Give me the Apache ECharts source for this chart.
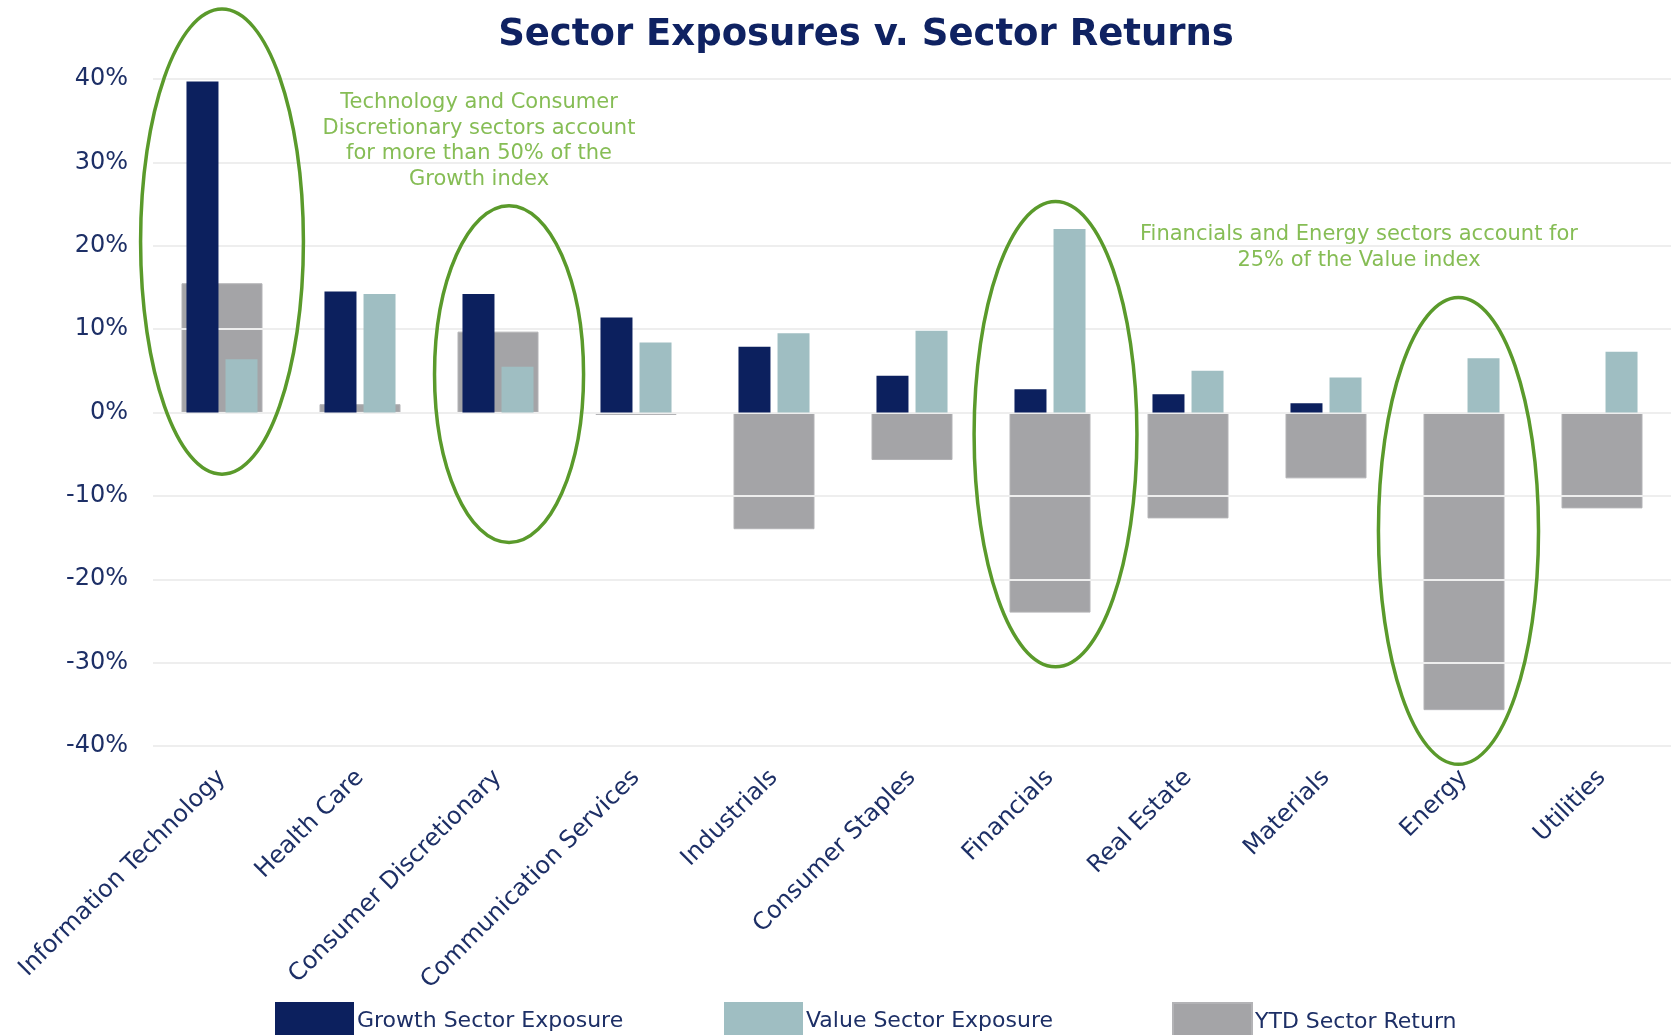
<!DOCTYPE html>
<html>
<head>
<meta charset="utf-8">
<script src="https://cdn.jsdelivr.net/npm/echarts@6/dist/echarts.min.js"></script>
<style>
html, body { margin: 0; padding: 0; background: #fff; }
#container { width: 1671px; height: 1035px; }
</style>
</head>
<body>
<div id="container"></div>
<script>
// 数据
var sectors = ['Information Technology', 'Health Care', 'Consumer Discretionary', 'Communication Services',
    'Industrials', 'Consumer Staples', 'Financials', 'Real Estate', 'Materials', 'Energy', 'Utilities'];
var growthExposure = [39.7, 14.5, 14.2, 11.4, 7.9, 4.4, 2.8, 2.2, 1.1, 0, 0];
var valueExposure = [6.4, 14.2, 5.5, 8.4, 9.5, 9.8, 22.0, 5.0, 4.2, 6.5, 7.3];
var ytdReturn = [15.5, 1.0, 9.7, -0.3, -14.0, -5.7, -24.0, -12.7, -7.9, -35.7, -11.5];
var yTicks = [-40, -30, -20, -10, 0, 10, 20, 30, 40];
var seriesNames = ['Growth Sector Exposure', 'Value Sector Exposure', 'YTD Sector Return'];

// 椭圆标注：所在行业、中心值、半高（百分点）、半宽与横向偏移（类目宽度的比例）
var highlightSector = ['Information Technology', 'Consumer Discretionary', 'Financials', 'Energy'];
var highlightMid = [20.5, 4.6, -2.6, -14.2];
var highlightHalf = [27.9, 20.2, 27.9, 28.0];
var highlightWidth = [0.59, 0.54, 0.59, 0.58];
var highlightShift = [0, 0.08, 0.04, -0.04];

var navy = '#0c205e';
var teal = '#9fbec2';
var grey = '#a4a4a7';
var textNavy = '#1d2f66';
var green = '#5a9a2b';
var noteGreen = '#86bd55';
var font = 'DejaVu Sans, Verdana, sans-serif';

var option = {
    animation: false,
    grid: { left: 153, right: 0, top: 79, bottom: 289, containLabel: false },
    xAxis: [{
        type: 'category',
        data: sectors,
        position: 'bottom',
        axisLine: { show: false, onZero: false },
        axisTick: { show: false },
        axisLabel: {
            rotate: 45,
            interval: 0,
            margin: 28,
            fontSize: 24,
            fontFamily: font,
            color: textNavy
        }
    }, {
        type: 'category',
        data: sectors,
        show: false
    }],
    yAxis: {
        type: 'value',
        min: yTicks[0],
        max: yTicks[yTicks.length - 1],
        interval: 10,
        z: 2,
        axisLine: { show: false },
        axisTick: { show: false },
        splitLine: { lineStyle: { color: '#eeeeee', width: 2 } },
        axisLabel: {
            formatter: '{value}%',
            margin: 25,
            fontSize: 24,
            fontFamily: font,
            color: textNavy
        }
    },
    legend: seriesNames.map(function(name, i) {
        return {
            data: [name],
            left: [275, 724, 1172][i],
            top: 1002,
            padding: 0,
            icon: 'rect',
            itemWidth: 79,
            itemHeight: 38,
            textStyle: { fontSize: 22, fontFamily: font, color: textNavy, padding: [4, 0, 0, -2] }
        };
    }),
    series: [{
        name: seriesNames[2],
        type: 'bar',
        xAxisIndex: 0,
        data: ytdReturn,
        barWidth: 81,
        z: 1,
        itemStyle: { color: grey, borderColor: '#b3b3b6', borderWidth: 1 }
    }, {
        name: seriesNames[0],
        type: 'bar',
        xAxisIndex: 1,
        data: growthExposure,
        barWidth: 32,
        barGap: '22%',
        z: 3,
        itemStyle: { color: navy }
    }, {
        name: seriesNames[1],
        type: 'bar',
        xAxisIndex: 1,
        data: valueExposure,
        barWidth: 32,
        barGap: '22%',
        z: 3,
        itemStyle: { color: teal }
    }]
};

function draw() {
    var myChart = echarts.init(document.getElementById('container'), null, { renderer: 'canvas' });
    myChart.setOption(option);

    var graphics = [{
        type: 'text',
        x: 866, y: 35,
        style: {
            text: 'Sector Exposures v. Sector Returns',
            font: 'bold 37px ' + font,
            fill: '#0f2262',
            textAlign: 'center',
            textVerticalAlign: 'middle'
        }
    }, {
        type: 'text',
        x: 479, y: 90,
        style: {
            text: 'Technology and Consumer\nDiscretionary sectors account\nfor more than 50% of the\nGrowth index',
            font: '21px ' + font,
            lineHeight: 25.5,
            fill: noteGreen,
            textAlign: 'center'
        }
    }, {
        type: 'text',
        x: 1359, y: 222,
        style: {
            text: 'Financials and Energy sectors account for\n25% of the Value index',
            font: '21px ' + font,
            lineHeight: 25.5,
            fill: noteGreen,
            textAlign: 'center'
        }
    }];

    // 椭圆位置由坐标轴换算
    var catWidth = myChart.convertToPixel({ xAxisIndex: 0 }, 1) - myChart.convertToPixel({ xAxisIndex: 0 }, 0);
    highlightSector.forEach(function(name, i) {
        var cx = myChart.convertToPixel({ xAxisIndex: 0 }, name) + catWidth * highlightShift[i];
        var cy = myChart.convertToPixel({ yAxisIndex: 0 }, highlightMid[i]);
        var top = myChart.convertToPixel({ yAxisIndex: 0 }, highlightMid[i] + highlightHalf[i]);
        graphics.push({
            type: 'ellipse',
            z: 10,
            shape: { cx: cx, cy: cy, rx: catWidth * highlightWidth[i], ry: cy - top },
            style: { fill: 'none', stroke: green, lineWidth: 3.5 }
        });
    });

    myChart.setOption({ graphic: graphics });
}

window.addEventListener('load', draw, false);
</script>
</body>
</html>
